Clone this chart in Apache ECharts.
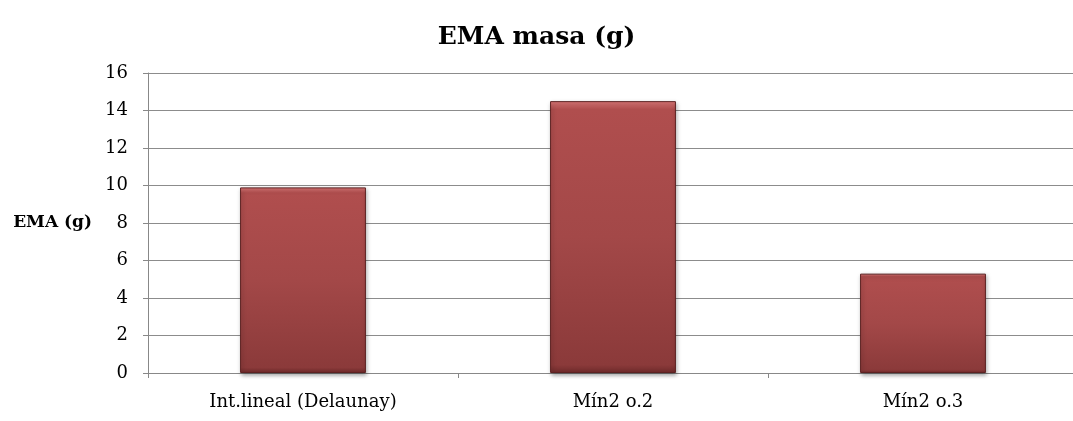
<!DOCTYPE html>
<html>
<head>
<meta charset="utf-8">
<script src="https://cdn.jsdelivr.net/npm/echarts@6/dist/echarts.min.js"></script>
<style>
  html, body { margin: 0; padding: 0; background: #fff; }
  #chart { width: 1073px; height: 421px; }
</style>
</head>
<body>
<div id="chart"></div>
<script>
// data
var categories = ['Int.lineal (Delaunay)', 'Mín2 o.2', 'Mín2 o.3'];
var emaValues = [9.9, 14.5, 5.3];
var yTicks = { min: 0, max: 16, interval: 2 };

var serif = '"DejaVu Serif", "Liberation Serif", serif';
var myChart = echarts.init(document.getElementById('chart'));

var option = {
    backgroundColor: '#fff',
    animation: false,
    title: {
        text: 'EMA masa (g)',
        left: 'center',
        top: 20,
        textStyle: { fontFamily: serif, fontSize: 25, fontWeight: 'bold', color: '#000' }
    },
    // the plot runs a bit past the right edge in the original
    grid: {
        left: 148,
        right: -5,
        top: 73,
        bottom: 48,
        outerBoundsMode: 'none',
        containLabel: false
    },
    xAxis: {
        type: 'category',
        data: categories,
        axisLine: { lineStyle: { color: '#888', width: 1 } },
        axisTick: { show: true, length: 5, alignWithLabel: false, lineStyle: { color: '#888' } },
        axisLabel: { margin: 20, color: '#000', fontFamily: serif, fontSize: 18 }
    },
    yAxis: {
        type: 'value',
        min: yTicks.min,
        max: yTicks.max,
        interval: yTicks.interval,
        name: 'EMA (g)',
        nameLocation: 'middle',
        nameRotate: 0,
        nameGap: 56,
        nameTextStyle: { fontFamily: serif, fontSize: 17, fontWeight: 'bold', color: '#000' },
        axisLine: { show: true, lineStyle: { color: '#888', width: 1 } },
        axisTick: { show: true, length: 5, lineStyle: { color: '#888' } },
        splitLine: { lineStyle: { color: '#8c8c8c', width: 1 } },
        axisLabel: { margin: 20, color: '#000', fontFamily: serif, fontSize: 18 }
    },
    series: [{
        type: 'bar',
        data: emaValues,
        barWidth: '40.6%',
        itemStyle: {
            color: new echarts.graphic.LinearGradient(0, 0, 0, 1, [
                { offset: 0, color: '#e07a7a' },
                { offset: 0.03, color: '#b04e4e' },
                { offset: 0.5, color: '#a34848' },
                { offset: 0.97, color: '#8b3a3a' },
                { offset: 1, color: '#6e2a2a' }
            ]),
            borderColor: '#5c2222',
            borderWidth: 1,
            shadowColor: 'rgba(0,0,0,0.35)',
            shadowBlur: 4,
            shadowOffsetX: 1,
            shadowOffsetY: 2
        }
    }]
};

myChart.setOption(option, true);
</script>
</body>
</html>
